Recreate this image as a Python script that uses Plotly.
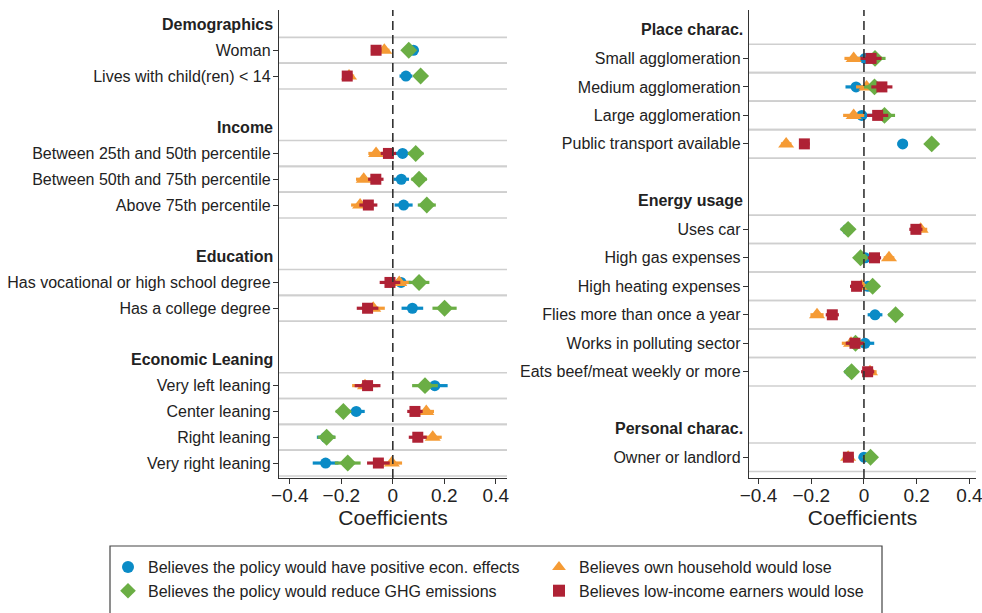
import plotly.graph_objects as go

# ---------------- data ----------------
left_rows = ["<b>Demographics</b>", "Woman", "Lives with child(ren) &lt; 14", "",
             "<b>Income</b>", "Between 25th and 50th percentile", "Between 50th and 75th percentile",
             "Above 75th percentile", "",
             "<b>Education</b>", "Has vocational or high school degree", "Has a college degree", "",
             "<b>Economic Leaning</b>", "Very left leaning", "Center leaning", "Right leaning",
             "Very right leaning"]
right_rows = ["<b>Place charac.</b>", "Small agglomeration", "Medium agglomeration",
              "Large agglomeration", "Public transport available", "",
              "<b>Energy usage</b>", "Uses car", "High gas expenses", "High heating expenses",
              "Flies more than once a year", "Works in polluting sector",
              "Eats beef/meat weekly or more", "",
              "<b>Personal charac.</b>", "Owner or landlord"]

series_names = ["Believes the policy would have positive econ. effects",
                "Believes own household would lose",
                "Believes the policy would reduce GHG emissions",
                "Believes low-income earners would lose"]

# coefficients (None = header / blank row)
left_econ = [None, 0.080, 0.051, None, None, 0.038, 0.033, 0.042, None, None, 0.032, 0.076, None, None, 0.163, -0.142, -0.260, -0.261]
left_econ_ci = [None, 0.020, 0.025, None, None, 0.030, 0.030, 0.035, None, None, 0.040, 0.042, None, None, 0.050, 0.033, 0.035, 0.050]
left_own = [None, -0.033, -0.170, None, None, -0.065, -0.113, -0.127, None, None, 0.025, -0.076, None, None, -0.108, 0.130, 0.155, -0.004]
left_own_ci = [None, 0.020, 0.020, None, None, 0.030, 0.030, 0.035, None, None, 0.040, 0.045, None, None, 0.050, 0.030, 0.035, 0.040]
left_ghg = [None, 0.062, 0.108, None, None, 0.089, 0.102, 0.132, None, None, 0.102, 0.201, None, None, 0.125, -0.192, -0.257, -0.175]
left_ghg_ci = [None, 0.020, 0.025, None, None, 0.030, 0.030, 0.035, None, None, 0.040, 0.047, None, None, 0.050, 0.030, 0.035, 0.050]
left_low = [None, -0.065, -0.177, None, None, -0.017, -0.066, -0.095, None, None, -0.011, -0.098, None, None, -0.098, 0.086, 0.097, -0.056]
left_low_ci = [None, 0.020, 0.020, None, None, 0.030, 0.030, 0.035, None, None, 0.040, 0.042, None, None, 0.050, 0.030, 0.035, 0.044]

right_econ = [None, 0.004, -0.030, -0.008, 0.147, None, None, -0.063, 0.005, 0.015, 0.042, 0.004, -0.050, None, None, 0.000]
right_econ_ci = [None, 0.040, 0.040, 0.040, 0.020, None, None, 0.025, 0.025, 0.025, 0.028, 0.035, 0.025, None, None, 0.020]
right_own = [None, -0.039, 0.010, -0.039, -0.295, None, None, 0.215, 0.095, -0.009, -0.178, -0.049, 0.023, None, None, -0.060]
right_own_ci = [None, 0.035, 0.040, 0.040, 0.020, None, None, 0.025, 0.020, 0.025, 0.025, 0.035, 0.025, None, None, 0.020]
right_ghg = [None, 0.042, 0.040, 0.078, 0.257, None, None, -0.060, -0.013, 0.033, 0.120, -0.032, -0.047, None, None, 0.025]
right_ghg_ci = [None, 0.040, 0.040, 0.040, 0.020, None, None, 0.025, 0.025, 0.025, 0.028, 0.035, 0.025, None, None, 0.020]
right_low = [None, 0.027, 0.068, 0.052, -0.226, None, None, 0.197, 0.040, -0.028, -0.120, -0.034, 0.014, None, None, -0.059]
right_low_ci = [None, 0.040, 0.040, 0.040, 0.020, None, None, 0.025, 0.025, 0.025, 0.025, 0.035, 0.025, None, None, 0.020]

x_ticks = [-0.4, -0.2, 0, 0.2, 0.4]
x_title = "Coefficients"

# ---------------- styling ----------------
colors = ["#0a8bc6", "#f59b35", "#6bae45", "#af2235"]
symbols = ["circle", "triangle-up", "diamond", "square"]
msizes = [11, 14, 13, 11]
FONT = "Liberation Sans, Arial, Helvetica, sans-serif"
TXT = "#222222"

fig = go.Figure()

panels = [
    ("x", "y", left_rows, [(left_econ, left_econ_ci), (left_own, left_own_ci),
                           (left_ghg, left_ghg_ci), (left_low, left_low_ci)], True),
    ("x2", "y2", right_rows, [(right_econ, right_econ_ci), (right_own, right_own_ci),
                              (right_ghg, right_ghg_ci), (right_low, right_low_ci)], False),
]

shapes = []
annotations = []
for xa, ya, rows, series, show in panels:
    idx = list(range(len(rows)))
    for k, (vals, ci) in enumerate(series):
        fig.add_trace(go.Scatter(
            x=vals, y=idx, xaxis=xa, yaxis=ya, mode="markers",
            name=series_names[k], showlegend=show, legendrank=k, hoverinfo="skip",
            marker=dict(symbol=symbols[k], size=msizes[k], color=colors[k], line=dict(width=0)),
            error_x=dict(type="data", array=ci, visible=True, color=colors[k], thickness=3.2, width=0),
        ))
    xdom = xa + " domain"
    ydom = ya + " domain"
    for i, r in enumerate(rows):
        if r and not r.startswith("<b>"):
            for yy in (i - 0.5, i + 0.5):
                shapes.append(dict(type="line", xref=xdom, yref=ya, x0=0, x1=1, y0=yy, y1=yy,
                                   line=dict(color="#cfcfcf", width=1.6), layer="below"))
        elif r.startswith("<b>"):
            annotations.append(dict(text=r, xref=xdom, yref=ya, x=0, y=i, xanchor="right",
                                    yanchor="middle", xshift=-4, showarrow=False,
                                    font=dict(family=FONT, size=16, color=TXT)))
    shapes.append(dict(type="line", xref=xa, yref=ydom, x0=0, x1=0, y0=0, y1=1,
                       line=dict(color="#333333", width=1.6, dash="9px,5px"), layer="above"))

tickvals_l = [i for i, r in enumerate(left_rows) if r and not r.startswith("<b>")]
tickvals_r = [i for i, r in enumerate(right_rows) if r and not r.startswith("<b>")]

W, H = 982, 613
ydom = [1 - 478 / H, 1 - 10 / H]

# legend frame
shapes.append(dict(type="rect", xref="paper", yref="paper",
                   x0=110 / W, x1=882 / W, y0=-0.05, y1=1 - 546 / H,
                   line=dict(color="#444", width=1.2), fillcolor="rgba(0,0,0,0)", layer="above"))

xcommon = dict(tickvals=x_ticks, ticks="outside", ticklen=5, tickwidth=1.2, tickcolor="#333",
               showline=True, linecolor="#333", linewidth=1.4, showgrid=False, zeroline=False,
               tickfont=dict(family=FONT, size=19, color=TXT), ticklabelstandoff=-5,
               ticklabeloverflow="allow",
               title=dict(text=x_title, font=dict(family=FONT, size=21, color=TXT), standoff=2),
               automargin=False)
ycommon = dict(ticks="outside", ticklen=5, tickwidth=1.2, tickcolor="#333",
               showline=True, linecolor="#333", linewidth=1.4, showgrid=False, zeroline=False,
               tickfont=dict(family=FONT, size=16, color=TXT), ticklabelstandoff=-1,
               automargin=False, domain=ydom)

fig.update_layout(
    width=W, height=H,
    margin=dict(l=0, r=0, t=0, b=0),
    paper_bgcolor="white", plot_bgcolor="white",
    font=dict(family=FONT, size=16, color=TXT),
    hovermode=False,
    xaxis=dict(domain=[279 / W, 507 / W], range=[-0.442, 0.4435], anchor="y", **xcommon),
    yaxis=dict(range=[17.58, -0.56], tickvals=tickvals_l,
               ticktext=[left_rows[i] for i in tickvals_l], anchor="x", **ycommon),
    xaxis2=dict(domain=[749 / W, 976 / W], range=[-0.436, 0.425], anchor="y2", **xcommon),
    yaxis2=dict(range=[15.73, -0.70], tickvals=tickvals_r,
                ticktext=[right_rows[i] for i in tickvals_r], anchor="x2", **ycommon),
    shapes=shapes,
    annotations=annotations,
    showlegend=True,
    legend=dict(orientation="h", x=108 / W, y=1 - 550 / H, xanchor="left", yanchor="top",
                borderwidth=0, entrywidth=386, entrywidthmode="pixels",
                font=dict(family=FONT, size=16, color=TXT), traceorder="normal",
                itemsizing="constant", bgcolor="rgba(0,0,0,0)"),
)

fig.write_html("out.html", config={"displayModeBar": False},
               post_script="document.body.style.margin='0px';document.body.style.overflow='hidden';")
